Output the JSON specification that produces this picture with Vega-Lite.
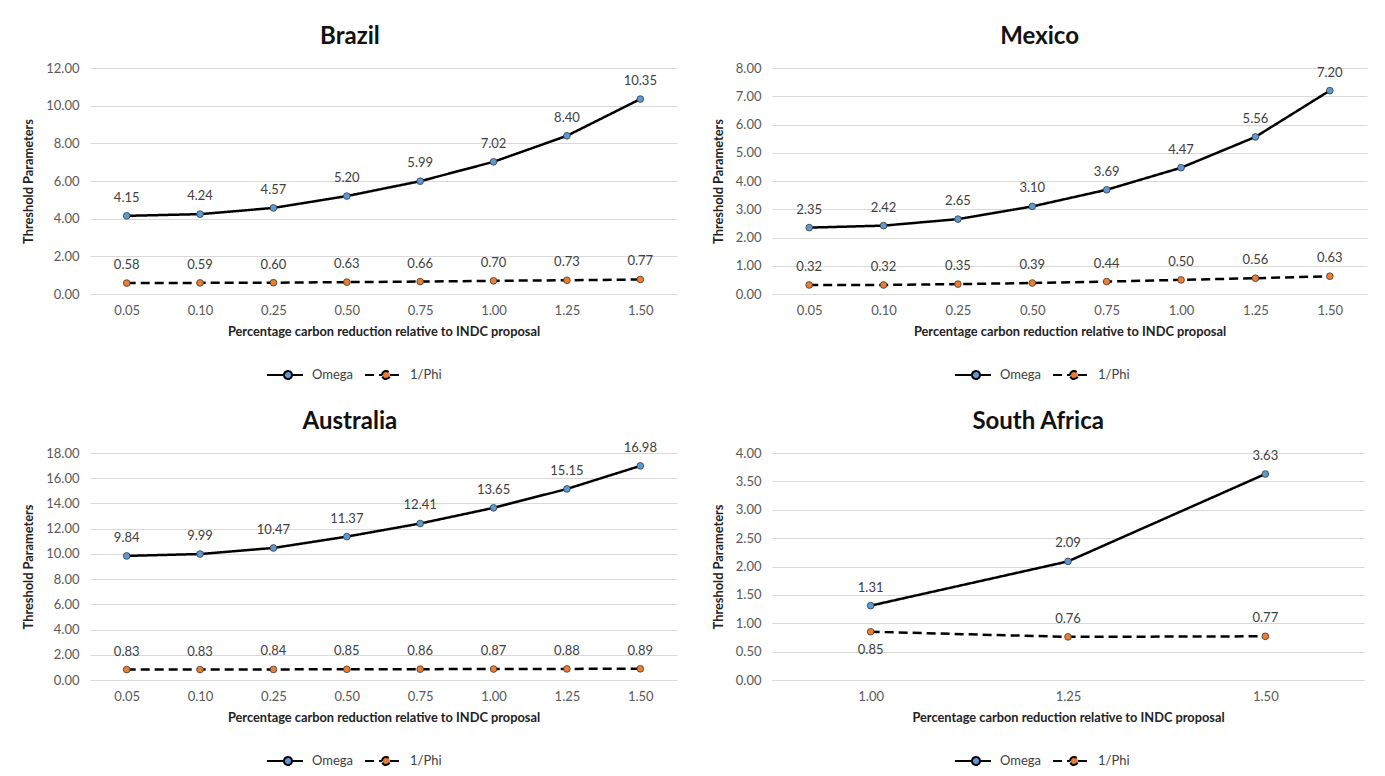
{
  "$schema": "https://vega.github.io/schema/vega-lite/v6.json",
  "padding": {"left": 22, "top": 25, "right": 5, "bottom": 0},
  "background": "white",
  "spacing": 26,
  "resolve": {"scale": {"fill": "independent", "strokeDash": "independent"}, "legend": {"fill": "independent", "strokeDash": "independent"}},
  "config": {
    "font": "Lato",
    "view": {"stroke": null},
    "concat": {"spacing": 35},
    "title": {"fontSize": 24, "fontWeight": "bold", "color": "#111111", "anchor": "middle", "offset": 13, "frame": "bounds"},
    "axis": {"labelFont": "Lato", "labelFontSize": 13, "labelColor": "#595959", "titleFont": "Lato", "titleFontSize": 12.8, "titleFontWeight": "bold", "titleColor": "#222222", "ticks": false, "tickSize": 0, "gridColor": "#d9d9d9", "gridWidth": 1},
    "axisX": {"domainColor": "#d9d9d9", "domainWidth": 1, "grid": false, "labelPadding": 10, "titlePadding": 8, "labelAngle": 0},
    "axisY": {"domain": false, "labelPadding": 11, "titlePadding": 10},
    "legend": {"labelFont": "Lato", "labelFontSize": 13, "labelColor": "#404040"}
  },
  "data": {"values": [
    {"country": "Brazil", "x": "0.05", "series": "Omega", "value": 4.15},
    {"country": "Brazil", "x": "0.10", "series": "Omega", "value": 4.24},
    {"country": "Brazil", "x": "0.25", "series": "Omega", "value": 4.57},
    {"country": "Brazil", "x": "0.50", "series": "Omega", "value": 5.20},
    {"country": "Brazil", "x": "0.75", "series": "Omega", "value": 5.99},
    {"country": "Brazil", "x": "1.00", "series": "Omega", "value": 7.02},
    {"country": "Brazil", "x": "1.25", "series": "Omega", "value": 8.40},
    {"country": "Brazil", "x": "1.50", "series": "Omega", "value": 10.35},
    {"country": "Brazil", "x": "0.05", "series": "1/Phi", "value": 0.58},
    {"country": "Brazil", "x": "0.10", "series": "1/Phi", "value": 0.59},
    {"country": "Brazil", "x": "0.25", "series": "1/Phi", "value": 0.60},
    {"country": "Brazil", "x": "0.50", "series": "1/Phi", "value": 0.63},
    {"country": "Brazil", "x": "0.75", "series": "1/Phi", "value": 0.66},
    {"country": "Brazil", "x": "1.00", "series": "1/Phi", "value": 0.70},
    {"country": "Brazil", "x": "1.25", "series": "1/Phi", "value": 0.73},
    {"country": "Brazil", "x": "1.50", "series": "1/Phi", "value": 0.77},
    {"country": "Mexico", "x": "0.05", "series": "Omega", "value": 2.35},
    {"country": "Mexico", "x": "0.10", "series": "Omega", "value": 2.42},
    {"country": "Mexico", "x": "0.25", "series": "Omega", "value": 2.65},
    {"country": "Mexico", "x": "0.50", "series": "Omega", "value": 3.10},
    {"country": "Mexico", "x": "0.75", "series": "Omega", "value": 3.69},
    {"country": "Mexico", "x": "1.00", "series": "Omega", "value": 4.47},
    {"country": "Mexico", "x": "1.25", "series": "Omega", "value": 5.56},
    {"country": "Mexico", "x": "1.50", "series": "Omega", "value": 7.20},
    {"country": "Mexico", "x": "0.05", "series": "1/Phi", "value": 0.32},
    {"country": "Mexico", "x": "0.10", "series": "1/Phi", "value": 0.32},
    {"country": "Mexico", "x": "0.25", "series": "1/Phi", "value": 0.35},
    {"country": "Mexico", "x": "0.50", "series": "1/Phi", "value": 0.39},
    {"country": "Mexico", "x": "0.75", "series": "1/Phi", "value": 0.44},
    {"country": "Mexico", "x": "1.00", "series": "1/Phi", "value": 0.50},
    {"country": "Mexico", "x": "1.25", "series": "1/Phi", "value": 0.56},
    {"country": "Mexico", "x": "1.50", "series": "1/Phi", "value": 0.63},
    {"country": "Australia", "x": "0.05", "series": "Omega", "value": 9.84},
    {"country": "Australia", "x": "0.10", "series": "Omega", "value": 9.99},
    {"country": "Australia", "x": "0.25", "series": "Omega", "value": 10.47},
    {"country": "Australia", "x": "0.50", "series": "Omega", "value": 11.37},
    {"country": "Australia", "x": "0.75", "series": "Omega", "value": 12.41},
    {"country": "Australia", "x": "1.00", "series": "Omega", "value": 13.65},
    {"country": "Australia", "x": "1.25", "series": "Omega", "value": 15.15},
    {"country": "Australia", "x": "1.50", "series": "Omega", "value": 16.98},
    {"country": "Australia", "x": "0.05", "series": "1/Phi", "value": 0.83},
    {"country": "Australia", "x": "0.10", "series": "1/Phi", "value": 0.83},
    {"country": "Australia", "x": "0.25", "series": "1/Phi", "value": 0.84},
    {"country": "Australia", "x": "0.50", "series": "1/Phi", "value": 0.85},
    {"country": "Australia", "x": "0.75", "series": "1/Phi", "value": 0.86},
    {"country": "Australia", "x": "1.00", "series": "1/Phi", "value": 0.87},
    {"country": "Australia", "x": "1.25", "series": "1/Phi", "value": 0.88},
    {"country": "Australia", "x": "1.50", "series": "1/Phi", "value": 0.89},
    {"country": "South Africa", "x": "1.00", "series": "Omega", "value": 1.31},
    {"country": "South Africa", "x": "1.25", "series": "Omega", "value": 2.09},
    {"country": "South Africa", "x": "1.50", "series": "Omega", "value": 3.63},
    {"country": "South Africa", "x": "1.00", "series": "1/Phi", "value": 0.85},
    {"country": "South Africa", "x": "1.25", "series": "1/Phi", "value": 0.76},
    {"country": "South Africa", "x": "1.50", "series": "1/Phi", "value": 0.77}
  ]},
  "vconcat": [
    {"resolve": {"scale": {"fill": "independent", "strokeDash": "independent"}, "legend": {"fill": "independent", "strokeDash": "independent"}}, "hconcat": [
      {
        "title": "Brazil",
        "width": 587, "height": 226,
        "transform": [{"filter": "datum.country === 'Brazil'"}],
        "encoding": {
          "x": {"field": "x", "type": "ordinal", "title": "Percentage carbon  reduction relative to INDC proposal"},
          "y": {"field": "value", "type": "quantitative", "title": "Threshold Parameters", "scale": {"domain": [0, 12], "nice": false}, "axis": {"values": [0, 2, 4, 6, 8, 10, 12], "format": ".2f"}}
        },
        "layer": [
          {"mark": {"type": "line", "color": "black", "strokeWidth": 2.5}, "encoding": {"strokeDash": {"field": "series", "type": "nominal", "scale": {"domain": ["Omega", "1/Phi"], "range": [[1, 0], [9, 5]]}, "legend": {"orient": "none", "legendX": 187, "legendY": 296, "direction": "horizontal", "title": null, "symbolType": "M -2.1 0 L -0.4 0 M 0.4 0 L 1.5 0 M -0.4 0 A 0.4 0.4 0 1 1 0.4 0 A 0.4 0.4 0 1 1 -0.4 0 Z", "symbolSize": 400, "symbolStrokeColor": "black", "symbolStrokeWidth": 2, "labelOffset": 13, "columnPadding": 7}}}},
          {"mark": {"type": "circle", "size": 45, "opacity": 1, "stroke": "#3a3a3a", "strokeWidth": 0.8}, "encoding": {"fill": {"field": "series", "type": "nominal", "scale": {"domain": ["Omega", "1/Phi"], "range": ["#5b9bd5", "#ed7d31"]}, "legend": {"orient": "none", "legendX": 187, "legendY": 296, "direction": "horizontal", "title": null, "symbolType": "M -2.1 0 L -0.4 0 M 0.4 0 L 1.5 0 M -0.4 0 A 0.4 0.4 0 1 1 0.4 0 A 0.4 0.4 0 1 1 -0.4 0 Z", "symbolSize": 400, "symbolStrokeColor": "black", "symbolStrokeWidth": 2, "labelOffset": 13, "columnPadding": 7}}}},
          {"mark": {"type": "text", "dy": -18, "fontSize": 13, "color": "#404040"}, "encoding": {"text": {"field": "value", "type": "quantitative", "format": ".2f"}}}
        ]
      },
      {
        "title": "Mexico",
        "width": 595, "height": 226,
        "transform": [{"filter": "datum.country === 'Mexico'"}],
        "encoding": {
          "x": {"field": "x", "type": "ordinal", "title": "Percentage carbon  reduction relative to INDC proposal"},
          "y": {"field": "value", "type": "quantitative", "title": "Threshold Parameters", "scale": {"domain": [0, 8], "nice": false}, "axis": {"values": [0, 1, 2, 3, 4, 5, 6, 7, 8], "format": ".2f"}}
        },
        "layer": [
          {"mark": {"type": "line", "color": "black", "strokeWidth": 2.5}, "encoding": {"strokeDash": {"field": "series", "type": "nominal", "scale": {"domain": ["Omega", "1/Phi"], "range": [[1, 0], [9, 5]]}, "legend": {"orient": "none", "legendX": 193, "legendY": 296, "direction": "horizontal", "title": null, "symbolType": "M -2.1 0 L -0.4 0 M 0.4 0 L 1.5 0 M -0.4 0 A 0.4 0.4 0 1 1 0.4 0 A 0.4 0.4 0 1 1 -0.4 0 Z", "symbolSize": 400, "symbolStrokeColor": "black", "symbolStrokeWidth": 2, "labelOffset": 13, "columnPadding": 7}}}},
          {"mark": {"type": "circle", "size": 45, "opacity": 1, "stroke": "#3a3a3a", "strokeWidth": 0.8}, "encoding": {"fill": {"field": "series", "type": "nominal", "scale": {"domain": ["Omega", "1/Phi"], "range": ["#5b9bd5", "#ed7d31"]}, "legend": {"orient": "none", "legendX": 193, "legendY": 296, "direction": "horizontal", "title": null, "symbolType": "M -2.1 0 L -0.4 0 M 0.4 0 L 1.5 0 M -0.4 0 A 0.4 0.4 0 1 1 0.4 0 A 0.4 0.4 0 1 1 -0.4 0 Z", "symbolSize": 400, "symbolStrokeColor": "black", "symbolStrokeWidth": 2, "labelOffset": 13, "columnPadding": 7}}}},
          {"mark": {"type": "text", "dy": -18, "fontSize": 13, "color": "#404040"}, "encoding": {"text": {"field": "value", "type": "quantitative", "format": ".2f"}}}
        ]
      }
    ]},
    {"resolve": {"scale": {"fill": "independent", "strokeDash": "independent"}, "legend": {"fill": "independent", "strokeDash": "independent"}}, "hconcat": [
      {
        "title": {"text": "Australia", "offset": 8},
        "width": 587, "height": 227,
        "transform": [{"filter": "datum.country === 'Australia'"}],
        "encoding": {
          "x": {"field": "x", "type": "ordinal", "title": "Percentage carbon  reduction relative to INDC proposal"},
          "y": {"field": "value", "type": "quantitative", "title": "Threshold Parameters", "scale": {"domain": [0, 18], "nice": false}, "axis": {"values": [0, 2, 4, 6, 8, 10, 12, 14, 16, 18], "format": ".2f"}}
        },
        "layer": [
          {"mark": {"type": "line", "color": "black", "strokeWidth": 2.5}, "encoding": {"strokeDash": {"field": "series", "type": "nominal", "scale": {"domain": ["Omega", "1/Phi"], "range": [[1, 0], [9, 5]]}, "legend": {"orient": "none", "legendX": 187, "legendY": 297, "direction": "horizontal", "title": null, "symbolType": "M -2.1 0 L -0.4 0 M 0.4 0 L 1.5 0 M -0.4 0 A 0.4 0.4 0 1 1 0.4 0 A 0.4 0.4 0 1 1 -0.4 0 Z", "symbolSize": 400, "symbolStrokeColor": "black", "symbolStrokeWidth": 2, "labelOffset": 13, "columnPadding": 7}}}},
          {"mark": {"type": "circle", "size": 45, "opacity": 1, "stroke": "#3a3a3a", "strokeWidth": 0.8}, "encoding": {"fill": {"field": "series", "type": "nominal", "scale": {"domain": ["Omega", "1/Phi"], "range": ["#5b9bd5", "#ed7d31"]}, "legend": {"orient": "none", "legendX": 187, "legendY": 297, "direction": "horizontal", "title": null, "symbolType": "M -2.1 0 L -0.4 0 M 0.4 0 L 1.5 0 M -0.4 0 A 0.4 0.4 0 1 1 0.4 0 A 0.4 0.4 0 1 1 -0.4 0 Z", "symbolSize": 400, "symbolStrokeColor": "black", "symbolStrokeWidth": 2, "labelOffset": 13, "columnPadding": 7}}}},
          {"mark": {"type": "text", "dy": -18, "fontSize": 13, "color": "#404040"}, "encoding": {"text": {"field": "value", "type": "quantitative", "format": ".2f"}}}
        ]
      },
      {
        "title": "South Africa",
        "width": 592, "height": 227,
        "transform": [{"filter": "datum.country === 'South Africa'"}],
        "encoding": {
          "x": {"field": "x", "type": "ordinal", "title": "Percentage carbon  reduction relative to INDC proposal"},
          "y": {"field": "value", "type": "quantitative", "title": "Threshold Parameters", "scale": {"domain": [0, 4], "nice": false}, "axis": {"values": [0, 0.5, 1, 1.5, 2, 2.5, 3, 3.5, 4], "format": ".2f"}}
        },
        "layer": [
          {"mark": {"type": "line", "color": "black", "strokeWidth": 2.5}, "encoding": {"strokeDash": {"field": "series", "type": "nominal", "scale": {"domain": ["Omega", "1/Phi"], "range": [[1, 0], [9, 5]]}, "legend": {"orient": "none", "legendX": 193, "legendY": 297, "direction": "horizontal", "title": null, "symbolType": "M -2.1 0 L -0.4 0 M 0.4 0 L 1.5 0 M -0.4 0 A 0.4 0.4 0 1 1 0.4 0 A 0.4 0.4 0 1 1 -0.4 0 Z", "symbolSize": 400, "symbolStrokeColor": "black", "symbolStrokeWidth": 2, "labelOffset": 13, "columnPadding": 7}}}},
          {"mark": {"type": "circle", "size": 45, "opacity": 1, "stroke": "#3a3a3a", "strokeWidth": 0.8}, "encoding": {"fill": {"field": "series", "type": "nominal", "scale": {"domain": ["Omega", "1/Phi"], "range": ["#5b9bd5", "#ed7d31"]}, "legend": {"orient": "none", "legendX": 193, "legendY": 297, "direction": "horizontal", "title": null, "symbolType": "M -2.1 0 L -0.4 0 M 0.4 0 L 1.5 0 M -0.4 0 A 0.4 0.4 0 1 1 0.4 0 A 0.4 0.4 0 1 1 -0.4 0 Z", "symbolSize": 400, "symbolStrokeColor": "black", "symbolStrokeWidth": 2, "labelOffset": 13, "columnPadding": 7}}}},
          {"transform": [{"filter": "!(datum.series === '1/Phi' && datum.x === '1.00')"}], "mark": {"type": "text", "dy": -18, "fontSize": 13, "color": "#404040"}, "encoding": {"text": {"field": "value", "type": "quantitative", "format": ".2f"}}},
          {"transform": [{"filter": "datum.series === '1/Phi' && datum.x === '1.00'"}], "mark": {"type": "text", "dy": 18, "fontSize": 13, "color": "#404040"}, "encoding": {"text": {"field": "value", "type": "quantitative", "format": ".2f"}}}
        ]
      }
    ]}
  ]
}
